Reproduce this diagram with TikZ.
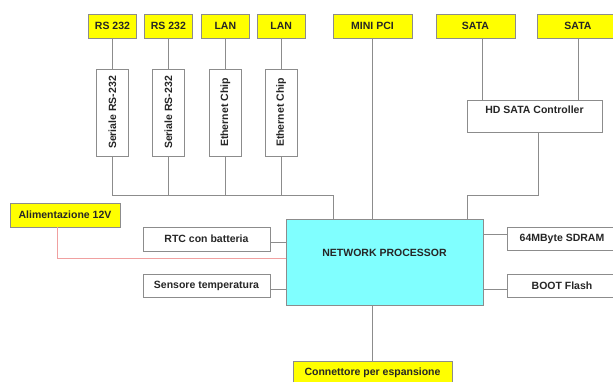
\documentclass[tikz,border=0pt]{standalone}
\usepackage{fontspec}
\setmainfont{Liberation Sans}
\usepackage{xcolor}
\usepackage{tikz}
\usetikzlibrary{positioning}

\definecolor{portyellow}{HTML}{FFFF00}
\definecolor{npcyan}{HTML}{80FFFF}
\definecolor{wiregray}{HTML}{8C8C8C}
\definecolor{pwrred}{HTML}{F0A0A0}

\begin{document}
\begin{tikzpicture}[
  x=1pt, y=-1pt,
  font=\fontsize{10.5}{12}\selectfont\bfseries,
  port/.style={rectangle, draw=wiregray, fill=portyellow, line width=0.9pt, minimum height=24pt, inner sep=1pt, text=black!85},
  chip/.style={rectangle, draw=wiregray, fill=white, line width=0.9pt, rotate=90, minimum width=87pt, minimum height=32pt, inner sep=1pt, text=black!85},
  unit/.style={rectangle, draw=wiregray, fill=white, line width=0.9pt, minimum height=24pt, inner sep=1pt, text=black!85},
  wire/.style={draw=wiregray, line width=0.9pt},
  pwr/.style={draw=pwrred, line width=0.9pt}
]
  \clip (0,0) rectangle (613,382);
  \fill[white] (0,0) rectangle (613,382);

  % connettori in alto
  \node[port, minimum width=48pt] (rs1) at (112.5,26) {RS 232};
  \node[port, minimum width=48pt, right=7pt of rs1] (rs2) {RS 232};
  \node[port, minimum width=48pt, right=8pt of rs2] (lan1) {LAN};
  \node[port, minimum width=48pt, right=7pt of lan1] (lan2) {LAN};
  \node[port, minimum width=79pt] (mpci) at (372.5,26) {MINI PCI};
  \node[port, minimum width=79pt] (sata1) at (475.5,26) {SATA};
  \node[port, minimum width=82pt] (sata2) at (578,26) {SATA};

  % chip verticali
  \node[chip] (ser1) at (rs1.south |- 0,112.5) {Seriale RS-232};
  \node[chip] (ser2) at (rs2.south |- 0,112.5) {Seriale RS-232};
  \node[chip] (eth1) at (lan1.south |- 0,112.5) {Ethernet Chip};
  \node[chip] (eth2) at (lan2.south |- 0,112.5) {Ethernet Chip};

  \node[unit, minimum width=135pt, minimum height=0pt, inner ysep=4pt, text height=10pt, text depth=14pt] (hd) at (534.5,116) {HD SATA Controller};

  % processore
  \node[rectangle, draw=wiregray, fill=npcyan, line width=0.9pt, minimum width=197pt, inner ysep=4pt, text height=33pt, text depth=45pt, text=black!85] (np) at (384.5,262) {NETWORK PROCESSOR};

  \node[port, minimum width=110pt, align=left] (alim) at (65,215) {Alimentazione 12V};
  \node[unit, minimum width=127pt] (rtc) at (206.5,239) {RTC con batteria};
  \node[unit, minimum width=127pt, minimum height=23pt] (temp) at (206.5,285.5) {Sensore temperatura};
  \node[unit, minimum width=110pt, minimum height=23pt] (sdram) at (562,238.5) {64MByte SDRAM};
  \node[unit, minimum width=110pt, minimum height=23pt] (boot) at (562,285.5) {BOOT Flash};
  \node[port, minimum width=159pt] (conn) at (372.5,373) {Connettore per espansione};

  \coordinate (busj) at (333,195);
  \coordinate (hdj) at (467,195);

  % collegamenti
  \draw[wire] (rs1) -- (ser1);
  \draw[wire] (rs2) -- (ser2);
  \draw[wire] (lan1) -- (eth1);
  \draw[wire] (lan2) -- (eth2);
  \draw[wire] (ser1.west) |- (busj) -- (busj |- np.north);
  \draw[wire] (ser2.west) -- (ser2.west |- busj);
  \draw[wire] (eth1.west) -- (eth1.west |- busj);
  \draw[wire] (eth2.west) -- (eth2.west |- busj);
  \draw[wire] (mpci.south) -- (mpci.south |- np.north);
  \draw[wire] ([xshift=7pt]sata1.south) -- ([xshift=7pt]sata1.south |- hd.north);
  \draw[wire] (sata2.south) -- (sata2.south |- hd.north);
  \draw[wire] ([xshift=4pt]hd.south) |- (hdj) -- (hdj |- np.north);
  \draw[wire] ([yshift=-3pt]rtc.east) -- ([yshift=-3pt]rtc.east -| np.west);
  \draw[wire] ([yshift=-3.5pt]temp.east) -- ([yshift=-3.5pt]temp.east -| np.west);
  \draw[wire] ([yshift=4.5pt]sdram.west) -- ([yshift=4.5pt]sdram.west -| np.east);
  \draw[wire] ([yshift=-3.5pt]boot.west) -- ([yshift=-3.5pt]boot.west -| np.east);
  \draw[wire] (conn.north) -- (conn.north |- np.south);
  \draw[pwr] ([xshift=-8pt]alim.south) |- ([yshift=4pt]np.west);
\end{tikzpicture}
\end{document}
